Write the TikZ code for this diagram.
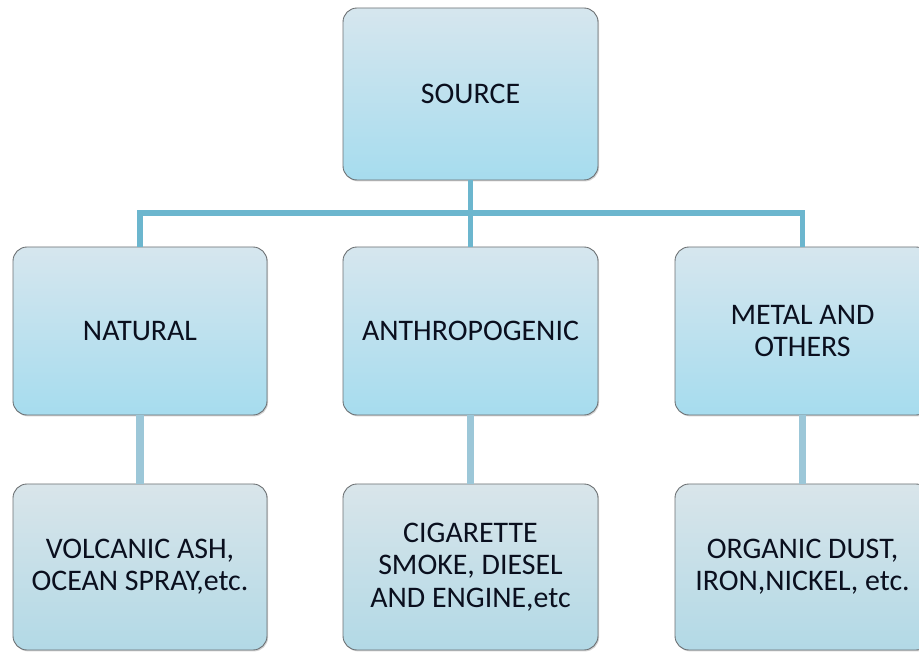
\documentclass[tikz,border=0pt]{standalone}
\usepackage{fontspec}
\setmainfont{Carlito}
\usetikzlibrary{positioning,calc,shadows}

\definecolor{boxtop}{HTML}{D6E6EE}
\definecolor{boxbot}{HTML}{A6DCEE}
\definecolor{lowtop}{HTML}{D9E5EA}
\definecolor{lowbot}{HTML}{B2D9E6}
\definecolor{busblue}{HTML}{6CB6CE}
\definecolor{stemblue}{HTML}{9CC7D8}
\definecolor{rimgrey}{HTML}{6B6F72}
\definecolor{inkblack}{HTML}{0A0F1E}

\tikzset{
  srcbox/.style={draw=rimgrey, line width=0.5pt, rounded corners=8pt,
    top color=boxtop, bottom color=boxbot, align=center, text=inkblack,
    minimum width=5.1cm, minimum height=3.4cm, font=\fontsize{17}{18.4}\selectfont,
    drop shadow={opacity=0.35, shadow xshift=0.6pt, shadow yshift=-0.8pt}},
  lowbox/.style={srcbox, top color=lowtop, bottom color=lowbot},
  busline/.style={busblue, line width=3.4pt},
  stemline/.style={stemblue, line width=4pt}
}

\begin{document}
\begin{tikzpicture}
  \useasboundingbox (0,0) rectangle (18.38,13.04);

  % top level
  \node[srcbox, minimum height=3.44cm] (src) at (9.41,11.16) {SOURCE};

  % second row
  \node[srcbox, minimum width=5.08cm, minimum height=3.36cm] (nat) at (2.8,6.42) {NATURAL};
  \node[srcbox, minimum height=3.36cm] (anth) at (9.41,6.42) {ANTHROPOGENIC};
  \node[srcbox, minimum height=3.36cm] (metal) at (16.05,6.42) {METAL AND\\OTHERS};

  % third row
  \node[lowbox, minimum width=5.08cm, minimum height=3.32cm] (volc) at (2.8,1.7) {VOLCANIC ASH,\\OCEAN SPRAY,etc.};
  \node[lowbox, minimum height=3.32cm] (cig) at (9.41,1.7) {CIGARETTE\\SMOKE, DIESEL\\AND ENGINE,etc};
  \node[lowbox, minimum height=3.32cm] (org) at (16.05,1.7) {ORGANIC DUST,\\IRON,NICKEL, etc.};

  % connectors
  \coordinate (bus) at (9.41,8.78);
  \draw[busline] (src.south) -- (anth.north);
  \draw[busline] (nat.north) -- (nat.north |- bus) -- (metal.north |- bus) -- (metal.north);
  \draw[stemline] (nat.south) -- (volc.north);
  \draw[stemline] (anth.south) -- (cig.north);
  \draw[stemline] (metal.south) -- (org.north);
\end{tikzpicture}
\end{document}
